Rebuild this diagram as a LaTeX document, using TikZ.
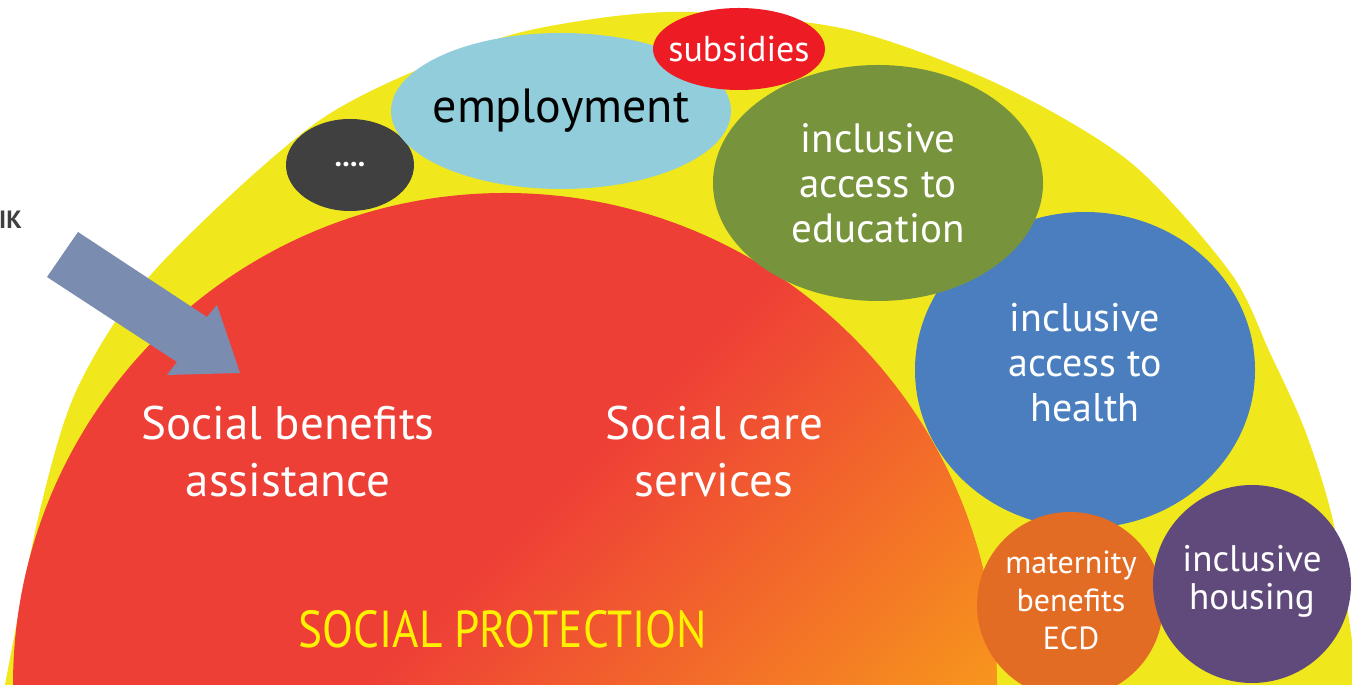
\documentclass[tikz,border=0pt]{standalone}
\usepackage{fontspec}
\setmainfont{PT Sans}
\usetikzlibrary{shapes.geometric}

\definecolor{spYellow}{HTML}{F0E81C}
\definecolor{spRed}{HTML}{EE3F37}
\definecolor{spOrange}{HTML}{F7941D}
\definecolor{spGray}{HTML}{404040}
\definecolor{spSky}{HTML}{92CDDC}
\definecolor{spScarlet}{HTML}{ED1C24}
\definecolor{spOlive}{HTML}{77933C}
\definecolor{spBlue}{HTML}{4A7EBF}
\definecolor{spAmber}{HTML}{E36C24}
\definecolor{spPurple}{HTML}{604A7B}
\definecolor{spArrow}{HTML}{7A8DB0}
\definecolor{spText}{HTML}{FFF200}

\pgfdeclareverticalshading{sprotect}{100bp}{color(0bp)=(spOrange); color(15bp)=(spOrange); color(45bp)=(spRed); color(100bp)=(spRed)}

\begin{document}
\begin{tikzpicture}[x=1pt, y=1pt,
    bubble/.style={ellipse, inner sep=0pt},
    lbl/.style={align=center, inner sep=0pt, text=white}]
    \useasboundingbox (0,0) rectangle (1352,685);
    \clip (0,0) rectangle (1352,685);

    % outer half disc
    \fill[spYellow] plot[smooth] coordinates {(5,0) (40,175) (78,298) (155,415)
      (320,565) (480,640) (580,664) (690,673) (850,655) (1000,600) (1130,523)
      (1230,413) (1270,332) (1306,252) (1335,155) (1358,0)} -- cycle;

    % social protection
    \shade[shading=sprotect, shading angle=45] (13,0) arc[start angle=180, end angle=0, radius=492] -- cycle;

    \foreach \name/\x/\y/\w/\h/\col in {
        more/350/520/128/92/spGray,
        employ/561/574/340/156/spSky,
        subsid/739/636/172/82/spScarlet,
        health/1085/315/340/316/spBlue,
        educ/878/502/330/236/spOlive,
        matern/1070/80/186/186/spAmber,
        housing/1252/101/198/198/spPurple} {
      \node[bubble, fill=\col, minimum width=\w, minimum height=\h] (\name) at (\x,\y) {};
    }

    \node[lbl, font=\bfseries\fontsize{30}{32}\selectfont] (moretxt) at (more) {....};
    \node[lbl, text=black, font=\fontsize{48}{52}\selectfont] (employtxt) at (employ) {employment};
    \node[lbl, font=\fontsize{36}{40}\selectfont] (subsidtxt) at (subsid) {subsidies};
    \node[lbl, font=\fontsize{41}{45}\selectfont] (eductxt) at (educ) {inclusive\\access to\\education};
    \node[lbl, font=\fontsize{40}{45}\selectfont] (healthtxt) at (1085,322) {inclusive\\access to\\health};
    \node[lbl, font=\fontsize{32}{38}\selectfont] (materntxt) at (1071,85) {maternity\\benefits\\ECD};
    \node[lbl, font=\fontsize{37}{38}\selectfont] (housingtxt) at (1252,104) {inclusive\\housing};

    \node[lbl, font=\fontsize{47}{57}\selectfont] (benefits) at (288,233) {Social benefits\\assistance};
    \node[lbl, font=\fontsize{47}{57}\selectfont] (care) at (714,233) {Social care\\services};
    \node[lbl, text=spText, font=\fontsize{52}{56}\selectfont] (protect) at (503,56) {\scalebox{0.87}[1]{SOCIAL PROTECTION}};

    \node[lbl, anchor=east, text=spGray, font=\bfseries\fontsize{25}{27}\selectfont] (cut) at (22,465) {IK};

    % pointer into the benefits
    \fill[spArrow] (78,453) -- (207,368) -- (217,380) -- (240,312) -- (167,310)
      -- (177,323) -- (47,408) -- cycle;

  \end{tikzpicture}
\end{document}
